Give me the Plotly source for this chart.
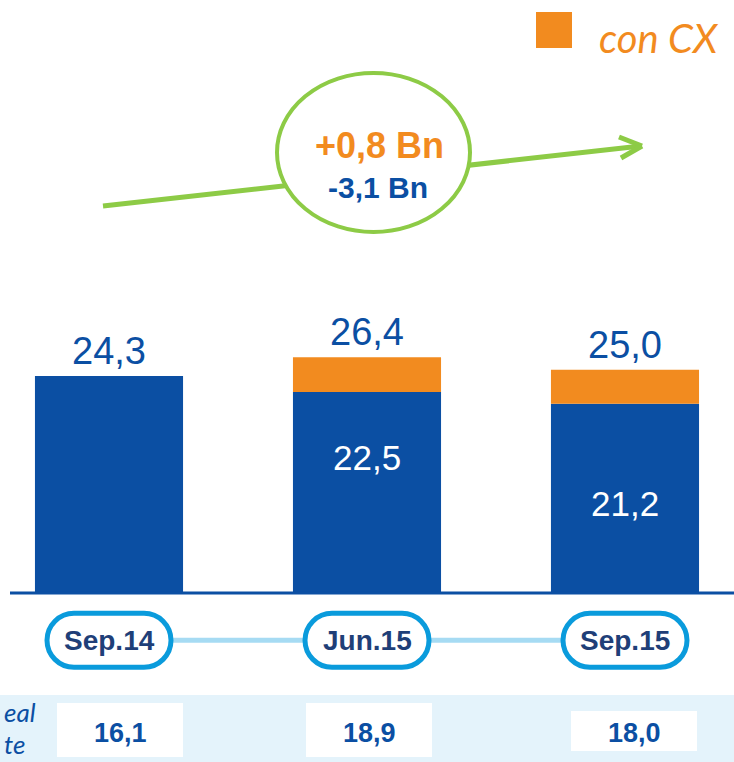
import plotly.graph_objects as go

W, H = 734, 762

# chart data
periods = ["Sep.14", "Jun.15", "Sep.15"]
totals = [24.3, 26.4, 25.0]
sin_cx = [24.3, 22.5, 21.2]
inner_labels = ["", "22,5", "21,2"]
real_values = ["16,1", "18,9", "18,0"]
change_cx = "+0,8 Bn"
change_base = "-3,1 Bn"

BLUE = "#0B4FA3"
ORANGE = "#F28B1F"
GREEN = "#8DCB46"
CYAN = "#0A9BDC"
NAVY = "#1F3F78"
BAND = "#E4F3FB"


def px(x):
    return x / W


def py(y):
    return 1 - y / H


def fmt(v):
    return f"{v:.1f}".replace(".", ",")


def note(text, x, y, size, color, xref="paper", yref="paper", family="Liberation Sans",
         **kw):
    d = dict(x=x, y=y, xref=xref, yref=yref, text=text, showarrow=False,
             xanchor="center", yanchor="middle",
             font=dict(size=size, color=color, family=family))
    d.update(kw)
    return d


x = list(range(len(periods)))
cx_part = [round(t - s, 1) for t, s in zip(totals, sin_cx)]

fig = go.Figure()

# connector line between the date pills
fig.add_trace(go.Scatter(
    x=[x[0], x[-1]], y=[-5.3, -5.3], mode="lines",
    line=dict(color="#A6DBF3", width=5), hoverinfo="skip", showlegend=False
))

fig.add_trace(go.Bar(x=x, y=sin_cx, marker=dict(color=BLUE, line_width=0),
                     width=0.574, name="sin CX", showlegend=False))
fig.add_trace(go.Bar(x=x, y=cx_part, base=sin_cx, marker=dict(color=ORANGE, line_width=0),
                     width=0.574, name="con CX", showlegend=False))

shapes = []
annotations = []

# baseline
shapes.append(dict(type="line", xref="paper", yref="y", x0=px(10), x1=1, y0=0, y1=0,
                   line=dict(color=BLUE, width=3)))

# green trend arrow + circle
arrow = dict(color=GREEN, width=5)
shapes.append(dict(type="line", xref="paper", yref="paper", x0=px(103), y0=py(206),
                   x1=px(641), y1=py(146), line=arrow))
shapes.append(dict(type="line", xref="paper", yref="paper", x0=px(619), y0=py(137),
                   x1=px(642), y1=py(146), line=arrow))
shapes.append(dict(type="line", xref="paper", yref="paper", x0=px(621), y0=py(158),
                   x1=px(642), y1=py(146), line=arrow))
shapes.append(dict(type="circle", xref="paper", yref="paper", x0=px(277), x1=px(470),
                   y0=py(232), y1=py(73), fillcolor="white", line=dict(color=GREEN, width=4)))

# legend square
shapes.append(dict(type="rect", xref="paper", yref="paper", x0=px(536), x1=px(572),
                   y0=py(48), y1=py(12), fillcolor=ORANGE, line_width=0))

# bottom band + white boxes
shapes.append(dict(type="rect", xref="paper", yref="paper", x0=0, x1=1, y0=0, y1=py(695),
                   fillcolor=BAND, line_width=0, layer="below"))
boxes = [(57, 183, 703, 757), (306, 432, 703, 757), (571, 697, 711, 751)]
for (bx0, bx1, by0, by1), val in zip(boxes, real_values):
    shapes.append(dict(type="rect", xref="paper", yref="paper", x0=px(bx0), x1=px(bx1),
                       y0=py(by1), y1=py(by0), fillcolor="white", line_width=0))
    annotations.append(note(f"<b>{val}</b>", px((bx0 + bx1) / 2), py(733), 27, BLUE))

# date pills
hw, hh, r = 62, 27, 27
k = 0.5523 * r
pill = (f"M {-hw + r},{-hh} L {hw - r},{-hh} "
        f"C {hw - r + k},{-hh} {hw},{-k} {hw},0 "
        f"C {hw},{k} {hw - r + k},{hh} {hw - r},{hh} "
        f"L {-hw + r},{hh} "
        f"C {-hw + r - k},{hh} {-hw},{k} {-hw},0 "
        f"C {-hw},{-k} {-hw + r - k},{-hh} {-hw + r},{-hh} Z")
for i, p in zip(x, periods):
    shapes.append(dict(type="path", xref="x", yref="y", xsizemode="pixel", ysizemode="pixel",
                       xanchor=i, yanchor=-5.3, path=pill, fillcolor="white",
                       line=dict(color=CYAN, width=5)))
    annotations.append(note(f"<b>{p}</b>", i, -5.3, 28, NAVY, xref="x", yref="y"))

# bar value labels
for i, t in zip(x, totals):
    annotations.append(note(fmt(t), i, t, 38, BLUE, xref="x", yref="y",
                            yanchor="bottom", yshift=2))
inner_y = [0, 15.2, 10.0]
for i, lab, yy in zip(x, inner_labels, inner_y):
    if lab:
        annotations.append(note(lab, i, yy, 35, "white", xref="x", yref="y"))

# circle texts
annotations.append(note(f"<b>{change_cx}</b>", px(379), py(146), 36, ORANGE))
annotations.append(note(f"<b>{change_base}</b>", px(378), py(188), 30, BLUE))

# legend text
annotations.append(note("con CX", px(597), py(38), 40, ORANGE, family="Lato",
                        xanchor="left"))
annotations[-1]["font"]["style"] = "italic"

# row label on the left (cut by the page edge in the source)
for txt, xl, yc in [("eal", 2, 712), ("te", 2, 744)]:
    a = note(txt, px(xl), py(yc), 26, BLUE, family="Lato", xanchor="left")
    a["font"]["style"] = "italic"
    annotations.append(a)

fig.update_layout(
    width=W, height=H,
    margin=dict(l=0, r=0, t=0, b=0),
    paper_bgcolor="white", plot_bgcolor="white",
    barmode="overlay", showlegend=False,
    shapes=shapes, annotations=annotations,
    xaxis=dict(range=[-0.4225, 2.4225], visible=False, fixedrange=True),
    yaxis=dict(range=[-18.93, 66.4], visible=False, fixedrange=True),
)

fig.write_html("out.html", config={"displayModeBar": False},
               post_script="document.body.style.margin='0';")
